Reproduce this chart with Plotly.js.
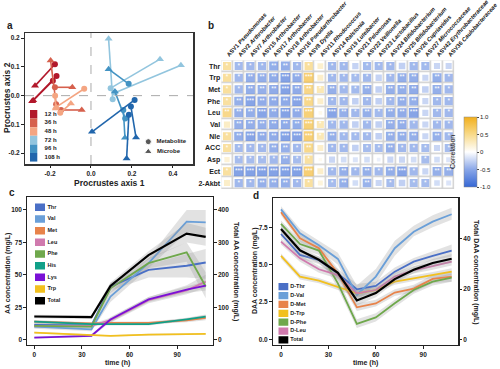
<!DOCTYPE html>
<html><head><meta charset="utf-8">
<script src="https://cdn.plot.ly/plotly-3.0.1.min.js"></script>
<style>html,body{margin:0;padding:0;background:#fff}#chart{width:500px;height:369px}</style>
</head><body><div id="chart"></div>
<script>
// ---------- Panel a: Procrustes ----------
const timeLabels = ['12 h','36 h','48 h','72 h','96 h','108 h'];
const timeColors = ['#B2182B','#D6604D','#F4A582','#92C5DE','#4393C3','#2166AC'];
const metabX = [[-0.176,-0.186,-0.168],[-0.170,-0.176,-0.146],[-0.033,-0.150,-0.175],[0.106,0.096,0.117],[0.184,0.167,0.158],[0.213,0.195,0.185]];
const metabY = [[0.109,0.052,0.068],[-0.030,0.029,-0.050],[0.024,-0.060,0.000],[-0.013,0.026,0.010],[0.041,-0.080,-0.050],[-0.015,-0.038,-0.067]];
const microbeX = [[-0.273,-0.287,-0.282],[-0.197,-0.091,-0.045],[-0.170,-0.098,-0.172],[0.086,0.337,0.439],[0.086,0.117,0.166],[0.005,0.220,0.174]];
const microbeY = [[0.034,-0.020,-0.016],[0.122,0.029,-0.050],[-0.040,-0.027,-0.045],[0.198,0.127,0.106],[0.092,0.014,-0.147],[-0.126,-0.146,-0.219]];
const shapeLabels = ['Metabolite','Microbe'];

// ---------- Panel b: correlation ----------
const asvLabels = ['ASV1 <i>Pseudomonas</i>','ASV2 <i>Arthrobacter</i>','ASV7 <i>Arthrobacter</i>','ASV15 <i>Arthrobacter</i>','ASV17 <i>Arthrobacter</i>','ASV18 <i>Arthrobacter</i>','ASV16 <i>Pseudarthrobacter</i>','ASV8 <i>Dyella</i>','ASV11 <i>Rhodococcus</i>','ASV14 <i>Ralstonia</i>','ASV19 <i>Luteibacter</i>','ASV21 <i>Pelomonas</i>','ASV22 <i>Veillonella</i>','ASV23 <i>Lactobacillus</i>','ASV24 <i>Bifidobacterium</i>','ASV25 <i>Bifidobacterium</i>','ASV26 <i>Cupriavidus</i>','ASV27 <i>Micrococcaceae</i>','ASV42 <i>Erythrobacteraceae</i>','ASV36 <i>Caulobacteraceae</i>'];
const metLabels = ['Thr','Trp','Met','Phe','Leu','Val','Nle','ACC','Asp','Ect','2-Akbt'];
const corrValues = [
 [0.58,-0.58,-0.6,-0.6,-0.72,-0.72,-0.6,0.6,0.3,-0.6,-0.6,-0.35,-0.58,-0.58,-0.6,-0.38,-0.6,-0.58,-0.33,-0.33],
 [0.6,-0.6,-0.72,-0.72,-0.74,-0.84,-0.74,0.86,0.32,-0.6,-0.6,-0.56,-0.6,-0.35,-0.6,-0.72,-0.72,-0.33,-0.72,-0.6],
 [0.6,-0.6,-0.72,-0.7,-0.74,-0.84,-0.74,0.74,0.45,-0.7,-0.6,-0.58,-0.7,-0.38,-0.7,-0.72,-0.74,-0.38,-0.7,-0.6],
 [0.58,-0.7,-0.82,-0.74,-0.74,-0.76,-0.82,0.72,0.32,-0.6,-0.6,-0.38,-0.6,-0.38,-0.6,-0.72,-0.7,-0.33,-0.6,-0.6],
 [0.72,-0.7,-0.72,-0.82,-0.74,-0.84,-0.74,0.84,0.12,-0.82,-0.7,-0.6,-0.7,-0.58,-0.72,-0.74,-0.82,-0.33,-0.6,-0.6],
 [0.35,-0.7,-0.72,-0.7,-0.74,-0.74,-0.72,0.84,0.45,-0.6,-0.6,-0.38,-0.6,-0.38,-0.7,-0.72,-0.6,-0.33,-0.6,-0.6],
 [0.6,-0.72,-0.82,-0.74,-0.74,-0.84,-0.84,0.86,0.45,-0.7,-0.6,-0.58,-0.6,-0.38,-0.7,-0.72,-0.7,-0.33,-0.7,-0.6],
 [0.58,-0.58,-0.6,-0.6,-0.7,-0.7,-0.6,0.72,0.32,-0.6,-0.6,-0.38,-0.56,-0.56,-0.7,-0.6,-0.6,-0.56,-0.33,-0.56],
 [0.25,-0.56,-0.56,-0.56,-0.6,-0.7,-0.56,0.58,0.1,-0.33,-0.28,-0.22,-0.28,-0.12,-0.33,-0.33,-0.28,-0.56,-0.28,-0.22],
 [0.58,-0.84,-0.86,-0.86,-0.84,-0.86,-0.86,0.86,0.32,-0.6,-0.7,-0.6,-0.7,-0.6,-0.72,-0.82,-0.6,-0.33,-0.7,-0.7],
 [0.33,-0.6,-0.6,-0.7,-0.7,-0.72,-0.6,0.58,0.22,-0.56,-0.7,-0.28,-0.66,-0.33,-0.56,-0.38,-0.56,-0.56,-0.28,-0.22]
];
const corrStars = [
 ['*','*','*','*','**','**','*','*','','*','*','','*','*','*','','*','*','',''],
 ['*','*','**','**','**','***','**','***','','*','*','*','*','','*','**','**','','**','*'],
 ['*','*','**','**','**','***','**','**','*','**','*','*','**','','**','**','**','','**','*'],
 ['*','**','***','**','**','**','***','**','','*','*','','*','','*','**','**','','*','*'],
 ['**','**','**','***','**','***','**','***','','***','**','*','**','*','**','**','***','','*','*'],
 ['','**','**','**','**','**','**','***','*','*','*','','*','','**','**','*','','*','*'],
 ['*','**','***','**','**','***','***','***','*','**','*','*','*','','**','**','**','','**','*'],
 ['*','*','*','*','**','**','*','**','','*','*','','*','*','**','*','*','*','','*'],
 ['','*','*','*','*','**','*','*','','','','','','','','','','*','',''],
 ['*','***','***','***','***','***','***','***','','*','**','*','**','*','**','***','*','','**','**'],
 ['','*','*','**','**','**','*','*','','*','**','','**','','*','','*','*','','']
];

// ---------- Panel c: amino acids ----------
const aaTime = [0, 36, 48, 72, 96, 108];
const aaNames = ['Thr','Val','Met','Leu','Phe','His','Lys','Trp'];
const aaColors = ['#4A6FC6','#6A9FD8','#E8834A','#D07AAE','#6FA84C','#11A088','#7A10D6','#F2C01E'];
const aaThr = [11.3, 11.0, 40.9, 53.8, 57.0, 59.5];
const aaVal = [10.0, 8.0, 33.2, 59.0, 91.0, 90.5];
const aaMet = [13.9, 12.6, 13.0, 13.0, 15.0, 16.9];
const aaLeu = [10.6, 10.6, 15.0, 30.5, 38.0, 44.8];
const aaPhe = [10.6, 10.0, 39.6, 59.0, 67.3, 41.0];
const aaHis = [13.9, 12.0, 12.0, 12.0, 15.6, 17.7];
const aaLys = [1.6, 3.0, 15.6, 31.0, 38.6, 41.7];
const aaTrp = [5.5, 3.6, 3.0, 3.9, 4.4, 4.4];
const aaTotal = [71.5, 69.6, 165.6, 260.7, 327, 317];
const aaLow  = [[9.5,9.5,38,48,48,47],[8.5,6.5,29,55,83,80],[12.5,11.5,12,12,13.5,15],[9.5,9.5,13,28,35,40],[9,8.5,36,55,60,32],[12.5,11,11,11,14,16],[1,2,13.5,29,36,38],[4.8,3,2.5,3.3,3.8,3.8]];
const aaHigh = [[13,12.5,44,58,66,70],[11.5,9.5,37,63,100,100],[15,13.5,14,14,16.5,19],[12,12,17,33,42,50],[12,11.5,43,63,75,52],[15,13,13,13,17,19.5],[2.5,4,17.5,33,41,45],[6.2,4.2,3.5,4.5,5,5]];
const aaTotalLow  = [66, 64, 155, 248, 300, 290];
const aaTotalHigh = [77, 75, 176, 273, 360, 345];
const aaLegend = ['Thr','Val','Met','Leu','Phe','His','Lys','Trp','Total'];
const aaLegendColors = ['#4A6FC6','#6A9FD8','#E8834A','#D07AAE','#6FA84C','#11A088','#7A10D6','#F2C01E','#000000'];

// ---------- Panel d: D-amino acids ----------
const daaTime = [0,12,24,36,48,60,72,84,96,108];
const daaNames = ['D-Thr','D-Val','D-Met','D-Trp','D-Phe','D-Leu'];
const daaColors = ['#4A6FC6','#6A9FD8','#E8834A','#F2C01E','#6FA84C','#D07AAE'];
const dThr = [7.05,5.65,5.3,4.4,3.35,3.57,4.53,5.2,5.58,5.94];
const dVal = [8.7,7.1,6.3,5.38,2.97,4.2,6.1,7.2,7.88,8.37];
const dMet = [8.5,6.76,6.1,4.4,2.14,2.4,3.13,3.4,4.04,4.2];
const dTrp = [5.58,4.2,3.93,3.48,3.08,3.3,3.86,4.08,4.3,4.53];
const dPhe = [7.72,6.38,5.94,3.75,1.03,1.47,2.41,3.3,3.86,4.13];
const dLeu = [6.54,5.42,4.69,4.3,3.08,3.3,4.2,4.64,4.9,5.2];
const dTotal = [44,35.5,31.7,26.5,15.5,18.4,24,27.7,30.4,32.1];
const dLow  = [[6.85,5.4,5.05,4.1,3.0,3.3,4.3,4.95,5.3,5.55],[8.5,6.8,6.0,5.0,2.5,3.7,5.6,6.9,7.5,8.0],[8.3,6.5,5.85,4.1,1.9,2.2,2.9,3.15,3.75,3.85],[5.4,4.0,3.75,3.3,2.85,3.1,3.65,3.9,4.1,4.3],[7.5,6.1,5.65,3.4,0.75,1.2,2.15,3.05,3.6,3.85],[6.35,5.2,4.45,4.05,2.8,3.05,3.95,4.4,4.65,4.95]];
const dHigh = [[7.25,5.9,5.55,4.7,3.7,3.85,4.8,5.45,5.9,6.35],[8.9,7.4,6.6,5.8,3.6,4.7,6.6,7.6,8.3,8.8],[8.7,7.0,6.35,4.7,2.4,2.65,3.35,3.65,4.3,4.55],[5.75,4.4,4.1,3.65,3.3,3.5,4.05,4.25,4.5,4.75],[7.95,6.65,6.2,4.1,1.35,1.75,2.65,3.55,4.1,4.4],[6.75,5.65,4.9,4.55,3.35,3.55,4.45,4.9,5.15,5.45]];
const dTotalLow  = [42.5,34,30.3,23.5,13.5,16.8,22.5,26.3,29,30.5];
const dTotalHigh = [45.5,37,33,27,18,20,25.5,29,32,34];
const daaLegend = ['D-Thr','D-Val','D-Met','D-Trp','D-Phe','D-Leu','Total'];
const daaLegendColors = ['#4A6FC6','#6A9FD8','#E8834A','#F2C01E','#6FA84C','#D07AAE','#000000'];

// ================= build =================
const W = 500, H = 369;
const px = v => v / W, py = v => 1 - v / H;
const FONT = 'Liberation Sans, Arial, sans-serif';
const tickFont = {family: FONT, size: 6.5, color: '#222', weight: 'bold'};
const traces = [];

// Panel a
timeLabels.forEach((lab, i) => {
  const lx = [], ly = [];
  for (let k = 0; k < metabX[i].length; k++) {
    lx.push(metabX[i][k], microbeX[i][k], null);
    ly.push(metabY[i][k], microbeY[i][k], null);
  }
  traces.push({type:'scatter', mode:'lines', x:lx, y:ly, xaxis:'x', yaxis:'y', line:{color:timeColors[i], width:1.6}, hoverinfo:'skip'});
  traces.push({type:'scatter', mode:'markers', x:metabX[i], y:metabY[i], xaxis:'x', yaxis:'y', marker:{symbol:'circle', size:6, color:timeColors[i]}});
  traces.push({type:'scatter', mode:'markers', x:microbeX[i], y:microbeY[i], xaxis:'x', yaxis:'y', marker:{symbol:'triangle-up', size:7, color:timeColors[i]}});
});
// legend a (colors)
traces.push({type:'bar', orientation:'h', y:timeLabels.map((_, i) => i), x:timeLabels.map(() => 1), width:1, marker:{color:timeColors, line:{width:0}}, xaxis:'x5', yaxis:'y7'});
traces.push({type:'scatter', mode:'text', y:timeLabels.map((_, i) => i), x:timeLabels.map(() => 2.0), text:timeLabels, textposition:'middle right', textfont:{family:FONT, size:6, color:'#222', weight:'bold'}, xaxis:'x5', yaxis:'y7'});
// legend a (shapes)
traces.push({type:'scatter', mode:'markers+text', y:[0, 1], x:[0, 0], marker:{symbol:['circle','triangle-up'], size:[6,7], color:'#111'}, text:shapeLabels.map(s => '  ' + s), textposition:'middle right', textfont:{family:FONT, size:6, color:'#222', weight:'bold'}, xaxis:'x6', yaxis:'y8'});

// Panel b
const gridZ = metLabels.map(() => asvLabels.map(() => 1));
const colIdx = asvLabels.map((_, j) => j), rowIdx = metLabels.map((_, i) => i);
traces.push({type:'heatmap', z:gridZ, x:colIdx, y:rowIdx, zmin:0, zmax:2, colorscale:[[0,'#d2d2d2'],[1,'#d2d2d2']], showscale:false, xaxis:'x2', yaxis:'y2', hoverinfo:'skip'});
traces.push({type:'heatmap', z:gridZ, x:colIdx, y:rowIdx, zmin:0, zmax:2, colorscale:[[0,'#ffffff'],[1,'#ffffff']], showscale:false, xgap:1.6, ygap:1.6, xaxis:'x2', yaxis:'y2', hoverinfo:'skip'});
const sqX = [], sqY = [], sqR = [], sqS = [];
metLabels.forEach((_, i) => asvLabels.forEach((_, j) => {
  sqX.push(j); sqY.push(i); sqR.push(corrValues[i][j]); sqS.push(corrStars[i][j]);
}));
traces.push({type:'scatter', mode:'markers', x:sqX, y:sqY, xaxis:'x2', yaxis:'y2',
  marker:{symbol:'square', size:sqR.map(r => 10.6 * Math.sqrt(Math.abs(r))), color:sqR, cmin:-1, cmax:1,
    colorscale:[[0,'#3567D4'],[0.25,'#8AA7E8'],[0.5,'#FFFFFF'],[0.75,'#F8DA8A'],[1,'#F2AF1C']],
    line:{width:0}, showscale:true,
    colorbar:{x:px(464), xanchor:'left', y:py(152), yanchor:'middle', len:70/H, lenmode:'fraction', thickness:13, thicknessmode:'pixels', xpad:0, ypad:0,
      outlinewidth:0.5, outlinecolor:'#888', tickvals:[-1,-0.5,0,0.5,1], ticktext:['-1.0','-0.5','0','0.5','1.0'], ticks:'outside', ticklen:2, tickcolor:'#444',
      tickfont:{family:FONT, size:6, color:'#222'}}}});
traces.push({type:'scatter', mode:'text', x:sqX, y:sqY, text:sqS, textposition:'middle center', textfont:{family:FONT, size:6.5, color:'#ffffff'}, xaxis:'x2', yaxis:'y2', hoverinfo:'skip'});

// Panel c
const band = 'rgba(150,150,150,0.28)';
const aaSeries = [aaThr, aaVal, aaMet, aaLeu, aaPhe, aaHis, aaLys, aaTrp];
aaSeries.forEach((s, i) => {
  traces.push({type:'scatter', mode:'lines', x:aaTime, y:aaLow[i], line:{width:0}, xaxis:'x3', yaxis:'y3', hoverinfo:'skip'});
  traces.push({type:'scatter', mode:'lines', x:aaTime, y:aaHigh[i], line:{width:0}, fill:'tonexty', fillcolor:band, xaxis:'x3', yaxis:'y3', hoverinfo:'skip'});
});
aaSeries.forEach((s, i) => {
  traces.push({type:'scatter', mode:'lines', name:aaNames[i], x:aaTime, y:s, line:{color:aaColors[i], width:1.8}, xaxis:'x3', yaxis:'y3'});
});
traces.push({type:'scatter', mode:'lines', x:aaTime, y:aaTotalLow, line:{width:0}, xaxis:'x3', yaxis:'y4', hoverinfo:'skip'});
traces.push({type:'scatter', mode:'lines', x:aaTime, y:aaTotalHigh, line:{width:0}, fill:'tonexty', fillcolor:band, xaxis:'x3', yaxis:'y4', hoverinfo:'skip'});
traces.push({type:'scatter', mode:'lines', name:'Total', x:aaTime, y:aaTotal, line:{color:'#000', width:2.2}, xaxis:'x3', yaxis:'y4'});
// legend c
traces.push({type:'bar', orientation:'h', y:aaLegend.map((_, i) => i), x:aaLegend.map(() => 10), width:0.64, marker:{color:aaLegendColors, line:{width:0}}, xaxis:'x7', yaxis:'y9'});
traces.push({type:'scatter', mode:'text', y:aaLegend.map((_, i) => i), x:aaLegend.map(() => 12.5), text:aaLegend, textposition:'middle right', textfont:{family:FONT, size:5.5, color:'#222', weight:'bold'}, xaxis:'x7', yaxis:'y9'});

// Panel d
const dSeries = [dThr, dVal, dMet, dTrp, dPhe, dLeu];
dSeries.forEach((s, i) => {
  traces.push({type:'scatter', mode:'lines', x:daaTime, y:dLow[i], line:{width:0}, xaxis:'x4', yaxis:'y5', hoverinfo:'skip'});
  traces.push({type:'scatter', mode:'lines', x:daaTime, y:dHigh[i], line:{width:0}, fill:'tonexty', fillcolor:band, xaxis:'x4', yaxis:'y5', hoverinfo:'skip'});
});
dSeries.forEach((s, i) => {
  traces.push({type:'scatter', mode:'lines', name:daaNames[i], x:daaTime, y:s, line:{color:daaColors[i], width:1.8}, xaxis:'x4', yaxis:'y5'});
});
traces.push({type:'scatter', mode:'lines', x:daaTime, y:dTotalLow, line:{width:0}, xaxis:'x4', yaxis:'y6', hoverinfo:'skip'});
traces.push({type:'scatter', mode:'lines', x:daaTime, y:dTotalHigh, line:{width:0}, fill:'tonexty', fillcolor:band, xaxis:'x4', yaxis:'y6', hoverinfo:'skip'});
traces.push({type:'scatter', mode:'lines', name:'Total', x:daaTime, y:dTotal, line:{color:'#000', width:2.2}, xaxis:'x4', yaxis:'y6'});
// legend d
traces.push({type:'bar', orientation:'h', y:daaLegend.map((_, i) => i), x:daaLegend.map(() => 10), width:0.82, marker:{color:daaLegendColors, line:{width:0}}, xaxis:'x8', yaxis:'y10'});
traces.push({type:'scatter', mode:'text', y:daaLegend.map((_, i) => i), x:daaLegend.map(() => 12), text:daaLegend, textposition:'middle right', textfont:{family:FONT, size:5.5, color:'#222', weight:'bold'}, xaxis:'x8', yaxis:'y10'});

const frameAxis = (extra) => Object.assign({showgrid:false, zeroline:false, showline:true, linecolor:'#222', linewidth:1.2, ticks:'outside', ticklen:2.5, tickwidth:1, tickcolor:'#222', tickfont:tickFont, fixedrange:true, automargin:false}, extra);
const hidden = (extra) => Object.assign({visible:false, showgrid:false, zeroline:false, fixedrange:true}, extra);
const ann = (text, x, y, size, angle) => ({text:text, x:px(x), y:py(y), xref:'paper', yref:'paper', xanchor:'center', yanchor:'middle', showarrow:false, textangle:angle || 0, font:{family:FONT, size:size, color:'#222'}});

const layout = {
  width:W, height:H, margin:{l:0, r:0, t:0, b:0, pad:0, autoexpand:false}, paper_bgcolor:'#fff', plot_bgcolor:'rgba(0,0,0,0)',
  showlegend:false, font:{family:FONT, color:'#222'},
  // a
  xaxis: frameAxis({domain:[px(25), px(193)], anchor:'y', range:[-0.322, 0.498], tickvals:[-0.2,0,0.2,0.4], ticktext:['-0.2','0.0','0.2','0.4'], mirror:true, linecolor:'#333', linewidth:1.5}),
  yaxis: frameAxis({domain:[py(164), py(33)], anchor:'x', range:[-0.238, 0.218], tickvals:[-0.2,-0.1,0,0.1,0.2], ticktext:['-0.2','-0.1','0.0','0.1','0.2'], mirror:true, linecolor:'#333', linewidth:1.5}),
  // b
  xaxis2: {domain:[px(221.2), px(454.5)], anchor:'y2', range:[-0.5, 19.5], side:'top', tickvals:colIdx, ticktext:asvLabels, tickangle:-48, showgrid:false, zeroline:false, showline:false, ticks:'', tickfont:{family:FONT, size:5.8, color:'#111', weight:'bold'}, fixedrange:true, automargin:false},
  yaxis2: {domain:[py(188.9), py(60.2)], anchor:'x2', range:[10.5, -0.5], tickvals:rowIdx, ticktext:metLabels, showgrid:false, zeroline:false, showline:false, ticks:'', tickfont:{family:FONT, size:7, color:'#222', weight:'bold'}, fixedrange:true, automargin:false},
  // c
  xaxis3: frameAxis({domain:[px(27), px(213)], anchor:'y3', range:[-4.6, 112.6], tickvals:[0,30,60,90], mirror:true}),
  yaxis3: frameAxis({domain:[py(345), py(197)], anchor:'x3', range:[-4.1, 110], tickvals:[0,25,50,75,100]}),
  yaxis4: frameAxis({domain:[py(345), py(197)], anchor:'x3', overlaying:'y3', side:'right', range:[-16.4, 440], tickvals:[0,100,200,300,400]}),
  // d
  xaxis4: frameAxis({domain:[px(272.7), px(458.3)], anchor:'y5', range:[-5.25, 112.2], tickvals:[0,30,60,90], mirror:true}),
  yaxis5: frameAxis({domain:[py(345), py(198.3)], anchor:'x4', range:[-0.38, 9.44], tickvals:[0,2.5,5,7.5], ticktext:['0.0','2.5','5.0','7.5']}),
  yaxis6: frameAxis({domain:[py(345), py(198.3)], anchor:'x4', overlaying:'y5', side:'right', range:[-2.27, 56.2], tickvals:[0,20,40]}),
  // legends
  xaxis5: hidden({domain:[px(30), px(70)], anchor:'y7', range:[0, 5.48]}),
  yaxis7: hidden({domain:[py(161.7), py(110)], anchor:'x5', range:[5.5, -0.5]}),
  xaxis6: hidden({domain:[px(143), px(190)], anchor:'y8', range:[-5.3, 41.7]}),
  yaxis8: hidden({domain:[py(156.7), py(136.7)], anchor:'x6', range:[1.5, -0.5]}),
  xaxis7: hidden({domain:[px(35), px(80)], anchor:'y9', range:[0, 45]}),
  yaxis9: hidden({domain:[py(306.5), py(201.5)], anchor:'x7', range:[8.5, -0.5]}),
  xaxis8: hidden({domain:[px(278.3), px(320)], anchor:'y10', range:[0, 41.7]}),
  yaxis10: hidden({domain:[py(344.4), py(282.3)], anchor:'x8', range:[6.5, -0.5]}),
  shapes: [
    {type:'line', xref:'x', yref:'y domain', x0:0, x1:0, y0:0, y1:1, line:{color:'#aaa', width:1, dash:'dash'}},
    {type:'line', xref:'x domain', yref:'y', x0:0, x1:1, y0:0, y1:0, line:{color:'#aaa', width:1, dash:'dash'}}
  ],
  annotations: [
    ann('<b>a</b>', 10, 25, 10),
    ann('<b>b</b>', 211, 25, 10),
    ann('<b>c</b>', 12, 193, 10),
    ann('<b>d</b>', 256, 195, 10),
    ann('<b>Procrustes axis 1</b>', 109, 183, 8.5),
    ann('<b>Procrustes axis 2</b>', 7, 98, 8.5, -90),
    ann('Correlation', 452, 152, 7, -90),
    ann('<b>time (h)</b>', 117, 363, 7),
    ann('<b>AA concentration (mg/L)</b>', 8, 274, 7, -90),
    ann('<b>Total AA concentration (mg/L)</b>', 236, 271, 7, 90),
    ann('<b>time (h)</b>', 365, 363, 7),
    ann('<b>DAA concentration (mg/L)</b>', 255, 271, 7, -90),
    ann('<b>Total DAA concentration (mg/L)</b>', 476, 272, 7, 90)
  ]
};
Plotly.newPlot('chart', traces, layout, {displayModeBar:false, staticPlot:true});
</script></body></html>
